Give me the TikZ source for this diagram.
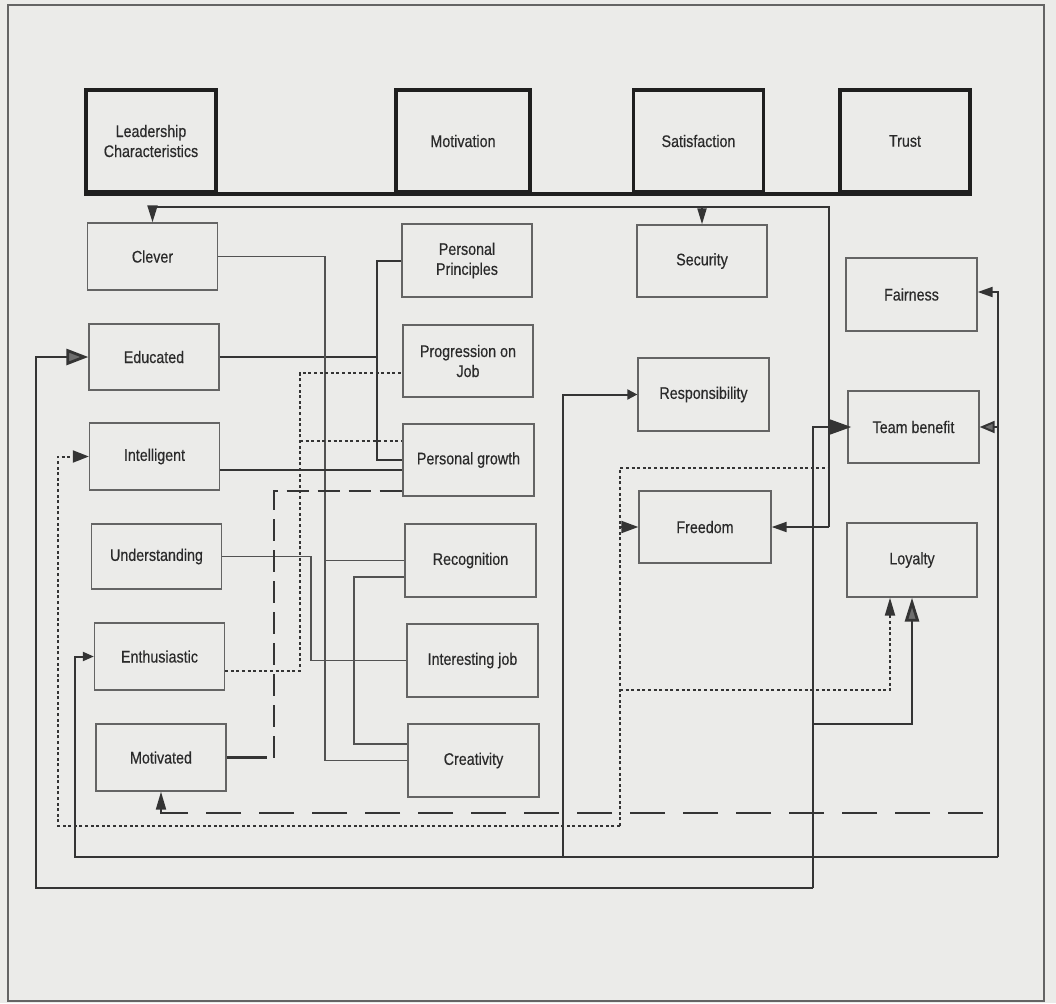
\documentclass[tikz,border=0pt]{standalone}
\usepackage{fontspec}
\setmainfont{Liberation Sans}[FakeStretch=0.85,FakeBold=0.4]
\usetikzlibrary{arrows.meta,calc}
\definecolor{bg}{RGB}{235,235,233}
\definecolor{ink}{RGB}{52,52,52}
\definecolor{boxc}{RGB}{100,100,100}
\definecolor{txt}{RGB}{42,42,42}
\definecolor{grayarr}{RGB}{110,110,110}
\begin{document}
\begin{tikzpicture}[x=1pt,y=-1pt,
  cbox/.style={draw=boxc,line width=1.3pt,minimum width=130pt,minimum height=72pt,inner sep=0pt,align=center,text=txt,font=\fontsize{16.8}{20}\selectfont},
  hbox/.style={cbox,draw=black!88,line width=3.6pt,minimum height=102pt},
  lnA/.style={draw=ink,line width=2.8pt},
  lnB/.style={draw=ink,line width=2pt},
  lnC/.style={draw=ink!85,line width=1.3pt},
  dotln/.style={draw=ink,line width=2pt,dash pattern=on 3pt off 2.6pt},
  dashln/.style={draw=ink,line width=2.3pt,dash pattern=on 22pt off 9pt},
  ldashln/.style={draw=ink,line width=2pt,dash pattern=on 35pt off 18pt},
  hdrline/.style={draw=black!88,line width=3.6pt}
]
\useasboundingbox (0,0) rectangle (1056,1003);
\fill[bg] (0,0) rectangle (1056,1003);
\draw[boxc,line width=1.4pt] (8,5) rectangle (1044,1001);

% header boxes
\node[hbox,minimum width=130pt] (lead) at (151,141) {Leadership\\Characteristics};
\node[hbox,minimum width=134pt] (motiv) at (463,141) {Motivation};
\node[hbox] (satis) at (698.5,141) {Satisfaction};
\node[hbox] (trust) at (905,141) {Trust};
\draw[hdrline] (lead.south west) -- (trust.south east);

% column 1
\node[cbox,minimum height=67pt] (clever) at (152.5,256.5) {Clever};
\node[cbox,minimum height=66pt] (educ) at (154,357) {Educated};
\node[cbox,minimum height=67pt] (intel) at (154.5,456.5) {Intelligent};
\node[cbox,minimum height=65pt] (under) at (156.5,556.5) {Understanding};
\node[cbox,minimum height=67pt] (enth) at (159.5,656.5) {Enthusiastic};
\node[cbox,minimum height=67pt] (motd) at (161,757.5) {Motivated};

% column 2
\node[cbox,minimum height=73pt] (pprin) at (467,260.5) {Personal\\Principles};
\node[cbox] (prog) at (468,361) {Progression on\\Job};
\node[cbox,minimum width=131pt] (pgrow) at (468.5,460) {Personal growth};
\node[cbox,minimum width=131pt,minimum height=73pt] (recog) at (470.5,560.5) {Recognition};
\node[cbox,minimum width=131pt,minimum height=73pt] (intjob) at (472.5,660.5) {Interesting job};
\node[cbox,minimum width=131pt,minimum height=73pt] (creat) at (473.5,760.5) {Creativity};

% column 3
\node[cbox] (secur) at (702,261) {Security};
\node[cbox,minimum width=131pt,minimum height=73pt] (resp) at (703.5,394.5) {Responsibility};
\node[cbox,minimum width=132pt] (free) at (705,527) {Freedom};

% column 4
\node[cbox,minimum width=131pt,minimum height=73pt] (fair) at (911.5,294.5) {Fairness};
\node[cbox,minimum width=131pt] (team) at (913.5,427) {Team benefit};
\node[cbox,minimum height=74pt] (loyal) at (912,560) {Loyalty};

% top distribution line
\coordinate (tb) at (829,207);
\draw[lnB] (clever.north |- tb) -- (tb) -- (829,527);
\draw[lnB,-{Triangle[length=17pt,width=10pt]}] (clever.north |- tb) -- (clever.north);
\draw[lnB,-{Triangle[length=16pt,width=9pt]}] (secur.north |- tb) -- (secur.north);
\draw[lnB,-{Triangle[length=15pt,width=10pt]}] (829,527) -- (free.east);

% Educated -> Personal Principles / Personal growth
\draw[lnB] (educ.east) -- (377,357);
\draw[lnB] (pprin.west) -- (377,260.5) -- (377,460) -- (pgrow.west);

% Clever -> Recognition, Creativity
\draw[lnC] (clever.east) -- (325,256.5) -- (325,760.5) -- (creat.west);
\draw[lnC] (325,560.5) -- (recog.west);

% Understanding -> Interesting job
\draw[lnC,line width=1.6pt] (under.east) -- (311,556.5) -- (311,660.5) -- (intjob.west);

% Recognition - Creativity
\draw[lnC,line width=1.7pt] ($(recog.west)+(0,16.5)$) -- (354,577) -- (354,744) -- ($(creat.west)+(0,-16.5)$);

% Intelligent -> Personal growth
\draw[lnB] ($(intel.east)+(0,13.5)$) -- ($(pgrow.west)+(0,10)$);

% Enthusiastic dotted -> Progression / Personal growth
\draw[dotln] ($(enth.east)+(0,14)$) -- (300,670.5) -- (300,373) -- ($(prog.west)+(0,12)$);
\draw[dotln] (300,441) -- ($(pgrow.west)+(0,-19)$);

% Motivated dashed -> Personal growth
\draw[lnA] (motd.east) -- (267,757.5);
\draw[dashln] (274,757.5) -- (274,491) -- ($(pgrow.west)+(0,31)$);

% long dashed -> Motivated
\coordinate (ldend) at (983,813);
\draw[ldashln,-{Triangle[length=18pt,width=10pt,sep=0pt]}] (ldend) -| (motd.south);

% thick network
\coordinate (ta) at (813,888);
\draw[lnA,-{Triangle[length=22pt,width=16pt,fill=grayarr]}] (ta) -- (36,888) -- (36,357) -- (educ.west);
\draw[lnA,-{Triangle[length=22pt,width=15pt]}] (ta) -- (813,427) -- ($(team.west)+(4,0)$);
\draw[lnA,-{Triangle[length=24pt,width=14pt,fill=grayarr]}] (813,724) -- (912,724) -- (loyal.south);

% medium network
\coordinate (mb) at (998,857);
\draw[lnB,-{Triangle[length=11pt,width=9pt]}] (mb) -- (75,857) -- (75,656.5) -- (enth.west);
\draw[lnB,-{Triangle[length=10pt,width=10pt]}] (563,857) -- (563,394.5) -- (resp.west);
\draw[lnB,-{Triangle[length=15pt,width=10pt]}] (mb) -- (998,292) -- ($(fair.east)+(0,-2.5)$);
\draw[lnB,-{Triangle[length=15pt,width=12pt,fill=grayarr]}] (998,427) -- (team.east);

% dotted network
\coordinate (dc) at (620,826);
\draw[dotln,-{Triangle[length=16pt,width=12pt]}] (dc) -- (58,826) -- (58,456.5) -- (intel.west);
\draw[dotln] (dc) -- (620,468) -- (829,468) -- (829,432);
\draw[dotln,-{Triangle[length=17pt,width=12pt]}] (620,527) -- (free.west);
\draw[dotln,-{Triangle[length=18pt,width=10pt]}] (620,690) -- (890,690) -- ($(loyal.south)+(-22,0)$);
\end{tikzpicture}
\end{document}
